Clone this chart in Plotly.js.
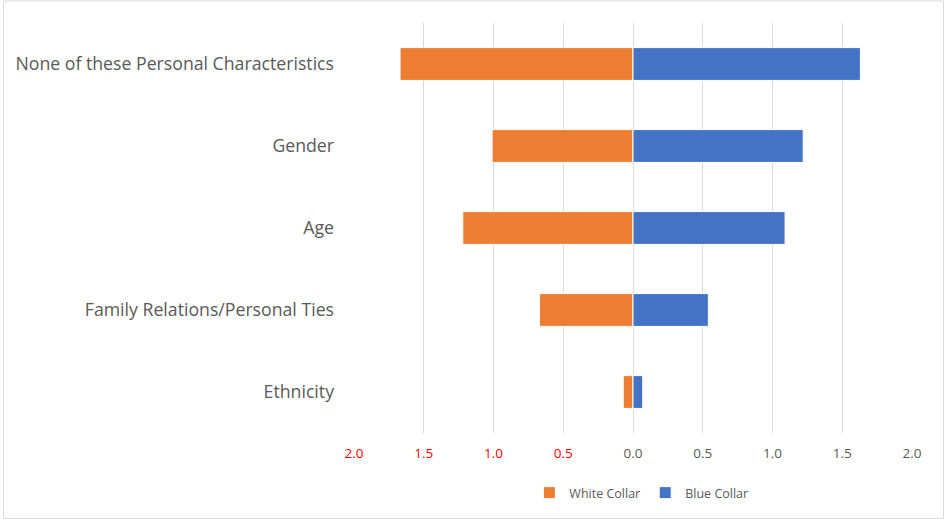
<!DOCTYPE html>
<html>
<head>
<meta charset="utf-8">
<script src="https://cdn.plot.ly/plotly-3.0.1.min.js"></script>
<style>html,body{margin:0;padding:0;background:#fff;}#chart{width:945px;height:519px;}</style>
</head>
<body>
<div id="chart"></div>
<script>
const categories = ["None of these Personal Characteristics", "Gender", "Age", "Family Relations/Personal Ties", "Ethnicity"];
const whiteCollar = [1.67, 1.01, 1.22, 0.67, 0.07];
const blueCollar = [1.63, 1.22, 1.09, 0.54, 0.07];
const tickVals = [-2, -1.5, -1, -0.5, 0, 0.5, 1, 1.5, 2];

const tickText = tickVals.map(v => {
  const s = Math.abs(v).toFixed(1);
  return v < 0 ? '<span style="color:#FF0000">' + s + '</span>' : s;
});

const font = "'Open Sans', Lato, sans-serif";

const traces = [
  {
    type: 'bar', orientation: 'h', name: 'White Collar',
    y: categories, x: whiteCollar.map(v => -v),
    marker: {color: '#ED7D31', line: {color: '#FFFFFF', width: 1}},
    hoverinfo: 'skip'
  },
  {
    type: 'bar', orientation: 'h', name: 'Blue Collar',
    y: categories, x: blueCollar,
    marker: {color: '#4472C4', line: {color: '#FFFFFF', width: 1}},
    hoverinfo: 'skip'
  }
];

const L = 354, R = 33, T = 23, B = 86;
const PW = 945 - L - R, PH = 519 - T - B;

const layout = {
  width: 945, height: 519,
  margin: {l: L, r: R, t: T, b: B, autoexpand: false},
  paper_bgcolor: '#FFFFFF', plot_bgcolor: '#FFFFFF',
  barmode: 'relative', bargap: 0.6,
  font: {family: font, color: '#595959'},
  xaxis: {
    range: [-2, 2], tickvals: tickVals, ticktext: tickText,
    showgrid: true, gridcolor: '#D9D9D9', gridwidth: 1,
    zeroline: false, showline: false, ticks: '',
    tickfont: {size: 13.5, color: '#595959', family: font},
    ticklabelstandoff: 10, fixedrange: true
  },
  yaxis: {
    type: 'category', autorange: 'reversed',
    showgrid: false, zeroline: false, showline: false, ticks: '',
    tickfont: {size: 17.7, color: '#595959', family: font},
    ticklabelstandoff: 19, fixedrange: true
  },
  showlegend: true,
  legend: {
    orientation: 'h', x: 0.515, xanchor: 'center', y: 26 / 519, yref: 'container', yanchor: 'middle',
    bgcolor: 'rgba(0,0,0,0)',
    font: {size: 12.5, color: '#595959', family: font},
    itemwidth: 30, traceorder: 'normal'
  },
  shapes: [{
    type: 'rect', xref: 'paper', yref: 'paper',
    x0: (3.5 - L) / PW, x1: (943.5 - L) / PW,
    y0: (T + PH - 518.5) / PH, y1: (T + PH - 1) / PH,
    line: {color: '#D9D9D9', width: 1}, layer: 'below'
  }]
};

Plotly.newPlot('chart', traces, layout, {displayModeBar: false, staticPlot: true});
</script>
</body>
</html>
